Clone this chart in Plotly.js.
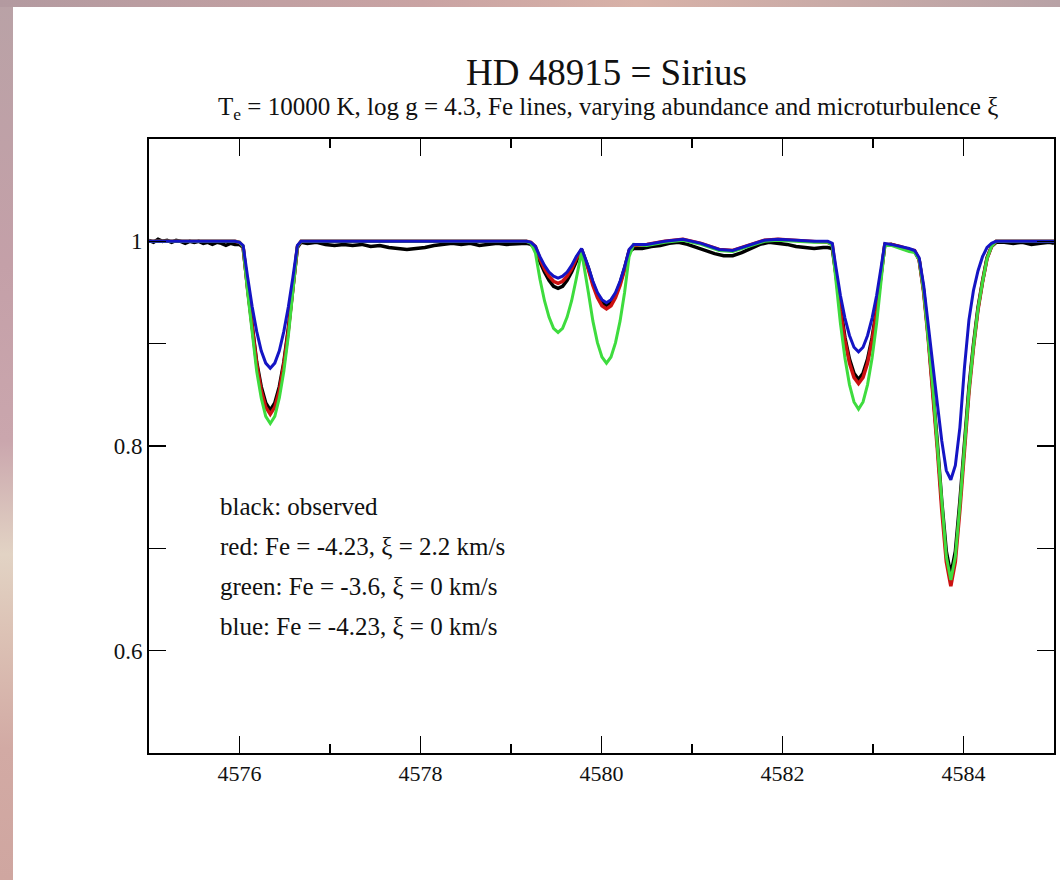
<!DOCTYPE html>
<html>
<head>
<meta charset="utf-8">
<script src="https://cdn.plot.ly/plotly-3.0.1.min.js"></script>
<style>
  html, body { margin: 0; padding: 0; width: 1060px; height: 880px; overflow: hidden; }
  body { background: linear-gradient(to bottom, #b9a2a6 0%, #c4a0a8 30%, #caa6ad 50%, #e2d3c4 63%, #dcc2b5 72%, #d2aaa4 85%, #cfa6a0 100%); position: relative; }
  #topstrip { position: absolute; left: 0; top: 0; width: 1060px; height: 7px; background: linear-gradient(to right, #b39aa0 0%, #c9a3a3 40%, #d8b2a8 60%, #b8a2a6 100%); }
  #panel { position: absolute; left: 13px; top: 7px; width: 1047px; height: 873px; background: #ffffff; }
  #chart { width: 1047px; height: 873px; }
</style>
</head>
<body>
<div id="topstrip"></div>
<div id="panel"><div id="chart"></div></div>
<script>
// ---- observed spectrum (black) ----
const obsWave = [
  4575.00,4575.05,4575.10,4575.15,4575.20,4575.25,4575.30,4575.35,4575.40,4575.45,4575.50,4575.55,4575.60,4575.65,4575.70,4575.75,4575.80,4575.85,4575.90,4575.95,4576.00,
  4576.04,4576.09,4576.14,4576.19,4576.24,4576.29,4576.34,4576.39,4576.44,4576.49,4576.54,4576.59,4576.64,4576.68,
  4576.75,4576.85,4576.95,4577.05,4577.15,4577.25,4577.35,4577.45,4577.55,4577.65,4577.75,4577.85,4577.95,4578.05,4578.15,4578.25,4578.35,4578.45,4578.55,4578.65,4578.75,4578.85,4578.95,4579.05,4579.12,
  4579.17,4579.22,4579.27,4579.32,4579.37,4579.42,4579.47,4579.52,4579.57,4579.62,4579.67,4579.72,4579.78,4579.855,4579.905,4579.955,4580.005,4580.055,4580.105,4580.155,4580.205,4580.255,4580.305,4580.355,
  4580.45,4580.55,4580.65,4580.75,4580.85,4580.95,4581.05,4581.15,4581.25,4581.35,4581.45,4581.55,4581.65,4581.75,4581.85,4581.95,4582.05,4582.15,4582.25,4582.35,4582.45,4582.50,
  4582.55,4582.59,4582.64,4582.69,4582.74,4582.79,4582.84,4582.89,4582.94,4582.99,4583.04,4583.09,4583.13,
  4583.20,4583.30,4583.40,
  4583.46,4583.51,4583.56,4583.61,4583.66,4583.71,4583.76,4583.81,4583.86,4583.91,4583.96,4584.01,4584.06,4584.11,4584.16,4584.21,4584.26,4584.31,4584.36,
  4584.45,4584.55,4584.65,4584.75,4584.85,4584.95,4585.00
];
const obsFlux = [
  1.001,0.999,1.002,1.000,1.001,0.999,1.001,1.000,0.998,1.000,0.999,1.000,0.998,0.999,0.997,0.999,0.998,0.996,0.998,0.997,0.997,
  0.994,0.954,0.915,0.882,0.858,0.842,0.835,0.842,0.858,0.882,0.915,0.954,0.994,0.999,
  0.998,0.999,0.997,0.996,0.997,0.996,0.997,0.995,0.996,0.994,0.993,0.992,0.993,0.994,0.996,0.997,0.998,0.997,0.998,0.996,0.997,0.998,0.997,0.998,0.998,
  0.998,0.997,0.993,0.980,0.970,0.962,0.956,0.954,0.956,0.962,0.970,0.981,0.992,0.974,0.959,0.948,0.9405,0.9375,0.9405,0.948,0.959,0.974,0.990,0.993,
  0.993,0.995,0.996,0.998,0.999,0.997,0.994,0.991,0.988,0.986,0.986,0.989,0.993,0.997,0.999,0.998,0.997,0.995,0.994,0.993,0.994,0.994,
  0.993,0.968,0.934,0.906,0.885,0.871,0.865,0.871,0.885,0.906,0.934,0.968,0.996,
  0.997,0.994,0.991,
  0.990,0.982,0.952,0.908,0.860,0.804,0.746,0.697,0.674,0.697,0.746,0.804,0.857,0.899,0.935,0.961,0.984,0.995,0.999,
  0.999,0.998,0.999,0.997,0.998,0.999,0.998
];

// ---- synthetic spectra (shared wavelength grid) ----
const modelWave = [
  4575.00,4575.50,4575.95,4576.00,4576.04,4576.09,4576.14,4576.19,4576.24,4576.29,4576.34,4576.39,4576.44,4576.49,4576.54,4576.59,4576.64,4576.68,
  4577.00,4578.00,4579.00,4579.17,
  4579.22,4579.27,4579.32,4579.37,4579.42,4579.47,4579.52,4579.57,4579.62,4579.67,4579.72,4579.78,4579.855,4579.905,4579.955,4580.005,4580.055,4580.105,4580.155,4580.205,4580.255,4580.305,4580.355,
  4580.50,4580.70,4580.90,4581.10,4581.30,4581.45,4581.60,4581.80,4581.95,4582.15,4582.35,4582.50,
  4582.55,4582.59,4582.64,4582.69,4582.74,4582.79,4582.84,4582.89,4582.94,4582.99,4583.04,4583.09,4583.13,
  4583.20,4583.30,4583.40,
  4583.46,4583.51,4583.56,4583.61,4583.66,4583.71,4583.76,4583.81,4583.86,4583.91,4583.96,4584.01,4584.06,4584.11,4584.16,4584.21,4584.26,4584.31,4584.36,
  4584.50,4585.00
];
// red: Fe = -4.23, xi = 2.2 km/s
const redFlux = [
  1.000,1.000,1.000,0.999,0.995,0.953,0.913,0.880,0.854,0.838,0.831,0.838,0.854,0.880,0.913,0.953,0.995,1.000,
  1.000,1.000,1.000,1.000,
  0.999,0.995,0.983,0.973,0.966,0.961,0.959,0.961,0.966,0.973,0.983,0.992,0.9725,0.957,0.945,0.937,0.934,0.937,0.945,0.957,0.9725,0.991,0.996,
  0.997,1.000,1.002,0.998,0.992,0.991,0.995,1.001,1.002,1.001,1.000,0.999,
  0.997,0.9675,0.932,0.903,0.881,0.867,0.861,0.867,0.881,0.903,0.932,0.9675,0.997,
  0.997,0.995,0.992,
  0.991,0.982,0.950,0.905,0.855,0.798,0.737,0.687,0.663,0.687,0.737,0.798,0.852,0.896,0.933,0.960,0.983,0.995,1.000,
  1.000,1.000
];
// green: Fe = -3.6, xi = 0 km/s
const greenFlux = [
  1.000,1.000,1.000,0.999,0.995,0.950,0.908,0.873,0.847,0.829,0.822,0.829,0.847,0.873,0.908,0.950,0.995,1.000,
  1.000,1.000,1.000,1.000,
  0.998,0.9885,0.963,0.942,0.926,0.915,0.911,0.915,0.926,0.942,0.963,0.990,0.950,0.922,0.901,0.887,0.881,0.887,0.901,0.922,0.950,0.985,0.997,
  0.996,0.999,1.001,0.997,0.991,0.990,0.994,1.000,1.001,1.000,0.999,0.999,
  0.996,0.962,0.920,0.886,0.860,0.843,0.836,0.843,0.860,0.886,0.920,0.962,0.996,
  0.996,0.993,0.990,
  0.989,0.982,0.951,0.907,0.858,0.801,0.742,0.692,0.669,0.692,0.742,0.801,0.854,0.897,0.934,0.960,0.983,0.995,1.000,
  1.000,1.000
];
// blue: Fe = -4.23, xi = 0 km/s
const blueFlux = [
  1.000,1.000,1.000,0.999,0.996,0.965,0.936,0.912,0.893,0.881,0.876,0.881,0.893,0.912,0.936,0.965,0.996,1.000,
  1.000,1.000,1.000,1.000,
  0.999,0.995,0.985,0.9765,0.970,0.966,0.964,0.966,0.970,0.9765,0.985,0.993,0.975,0.961,0.950,0.943,0.940,0.943,0.950,0.961,0.975,0.992,0.997,
  0.997,1.000,1.002,0.998,0.992,0.991,0.995,1.001,1.002,1.001,1.000,1.000,
  0.998,0.975,0.947,0.925,0.908,0.8965,0.892,0.8965,0.908,0.925,0.947,0.975,0.998,
  0.997,0.995,0.993,
  0.991,0.984,0.957,0.917,0.878,0.842,0.805,0.776,0.767,0.781,0.818,0.876,0.923,0.952,0.971,0.985,0.994,0.998,1.000,
  1.000,1.000
];

const titleText = "HD 48915 = Sirius";
const subtitleText = "T<sub>e</sub> = 10000 K, log g = 4.3, Fe lines, varying abundance and microturbulence ξ";
const noteLines = [
  "black: observed",
  "red: Fe = -4.23, ξ = 2.2 km/s",
  "green: Fe = -3.6, ξ = 0 km/s",
  "blue: Fe = -4.23, ξ = 0 km/s"
];
const noteY = [0.7405, 0.7015, 0.6624, 0.6234];
const noteX = 4575.76;
const yTickVals = [0.6, 0.8, 1.0];
const yTickText = ["0.6", "0.8", "1"];

const serif = "Liberation Serif";

const traces = [
  {x: obsWave, y: obsFlux, mode: "lines", line: {color: "#000000", width: 3.5}, name: "observed"},
  {x: modelWave, y: redFlux, mode: "lines", line: {color: "#cc1111", width: 3.5}, name: "red"},
  {x: modelWave, y: greenFlux, mode: "lines", line: {color: "#3edc3e", width: 3}, name: "green"},
  {x: modelWave, y: blueFlux, mode: "lines", line: {color: "#1414c4", width: 3}, name: "blue"}
];

const annotations = noteLines.map((t, i) => ({
  x: noteX, y: noteY[i], xref: "x", yref: "y", text: t, showarrow: false,
  xanchor: "left", yanchor: "middle", font: {family: serif, size: 25, color: "#111"}
}));
annotations.push({
  x: 0.506, y: 1.1075, xref: "paper", yref: "paper", text: titleText, showarrow: false,
  xanchor: "center", yanchor: "middle", font: {family: serif, size: 37, color: "#111"}
});
annotations.push({
  x: 0.507, y: 1.050, xref: "paper", yref: "paper", text: subtitleText, showarrow: false,
  xanchor: "center", yanchor: "middle", font: {family: serif, size: 25, color: "#111"}
});

const layout = {
  width: 1047, height: 873,
  margin: {l: 136, r: 6, t: 132, b: 127},
  paper_bgcolor: "#ffffff", plot_bgcolor: "#ffffff",
  font: {family: serif, color: "#111"},
  showlegend: false,
  xaxis: {
    range: [4575, 4585], showgrid: false, zeroline: false,
    showline: true, linecolor: "#000", linewidth: 2, mirror: "ticks",
    ticks: "inside", ticklen: 17, tickwidth: 1.5, tickcolor: "#000",
    tick0: 4576, dtick: 2,
    minor: {ticks: "inside", ticklen: 9, tickwidth: 1.5, tickcolor: "#000", dtick: 1, tick0: 4575, showgrid: false},
    tickfont: {family: serif, size: 22, color: "#111"}
  },
  yaxis: {
    range: [0.5, 1.1], showgrid: false, zeroline: false,
    showline: true, linecolor: "#000", linewidth: 2, mirror: "ticks",
    ticks: "inside", ticklen: 17, tickwidth: 1.5, tickcolor: "#000",
    tickmode: "array", tickvals: yTickVals, ticktext: yTickText,
    minor: {ticks: "inside", ticklen: 17, tickwidth: 1.5, tickcolor: "#000", dtick: 0.1, tick0: 0.5, showgrid: false},
    tickfont: {family: serif, size: 23, color: "#111"}
  },
  annotations: annotations
};

Plotly.newPlot("chart", traces, layout, {displayModeBar: false, staticPlot: true});
</script>
</body>
</html>
